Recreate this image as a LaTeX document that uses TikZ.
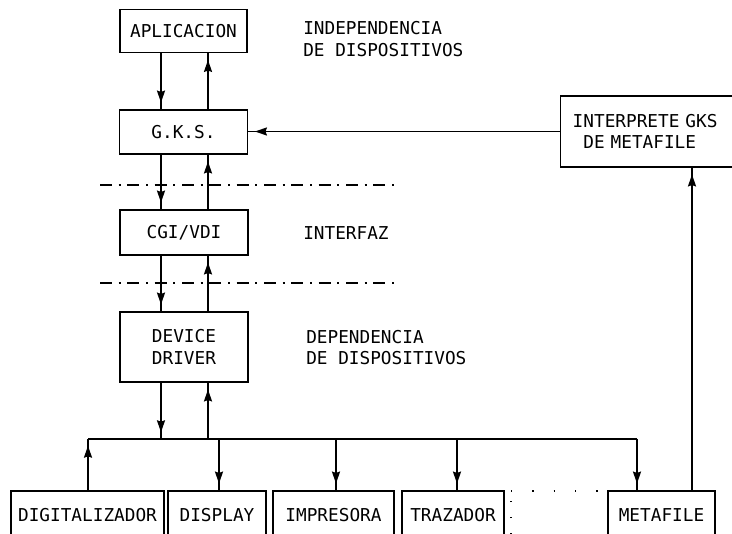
\documentclass[tikz,border=0pt]{standalone}
\usepackage{fontspec}
\setmonofont{DejaVu Sans Mono}
\usetikzlibrary{arrows.meta}
\begin{document}
\begin{tikzpicture}[x=0.75pt,y=-0.75pt,
  every node/.style={font=\ttfamily\fontsize{13.3pt}{16pt}\selectfont},
  box/.style 2 args={draw, line width=1.1pt, minimum width=#1*0.75pt, minimum height=#2*0.75pt, inner sep=0pt, align=center},
  lbl/.style={anchor=west, inner sep=0pt, align=left},
  arr/.style={line width=1.2pt, -{Stealth[length=9pt,width=6pt,inset=1pt]}, shorten >=5pt,
    postaction={draw, -, shorten >=0pt}},
  sepline/.style={line width=0.8pt, dash pattern=on 9pt off 5pt on 1.5pt off 5pt}
]
\useasboundingbox (0,0) rectangle (732,534);
\clip (0,0) rectangle (732,534);

% main column
\node[box={127}{43}] (app) at (183.5,31) {APLICACION};
\node[box={128}{44}] (gks) at (183.5,132) {G.K.S.};
\node[box={128}{45}] (cgi) at (184,232.5) {CGI/VDI};
\node[box={128}{70}] (dd) at (184,347) {DEVICE\\DRIVER};

% interpreter
\node[draw, line width=1.1pt, anchor=west, minimum height=53.25pt, inner xsep=9pt, inner ysep=0pt,
      text width=117pt, align=left] (interp) at (560,131.5) {INTERPRETE GKS\\\hphantom{D}DE METAFILE};

% side labels
\node[lbl] (lind) at (303,39) {INDEPENDENCIA\\DE DISPOSITIVOS};
\node[lbl] (lint) at (303,233) {INTERFAZ};
\node[lbl] (ldep) at (306,347.5) {DEPENDENCIA\\DE DISPOSITIVOS};

% device boxes
\node[box={153}{49}] (dig) at (87.5,515.5) {DIGITALIZADOR};
\node[box={98}{49}] (disp) at (217,515.5) {DISPLAY};
\node[box={121}{49}] (imp) at (333.5,515.5) {IMPRESORA};
\node[box={102}{49}] (traz) at (453,515.5) {TRAZADOR};
\node[box={107}{49}] (meta) at (661.5,515.5) {METAFILE};

% separator lines
\coordinate (s1a) at (100,185); \coordinate (s1b) at (395,185);
\coordinate (s2a) at (100,283); \coordinate (s2b) at (395,283);
\draw[sepline] (s1a) -- (s1b);
\draw[sepline] (s2a) -- (s2b);

% column x positions
\coordinate (xl) at (161,0);
\coordinate (xr) at (208,0);
\draw[arr] (xl |- app.south) -- (xl |- gks.north);
\draw[arr] (xr |- gks.north) -- (xr |- app.south);
\draw[arr] (xl |- gks.south) -- (xl |- cgi.north);
\draw[arr] (xr |- cgi.north) -- (xr |- gks.south);
\draw[arr] (xl |- cgi.south) -- (xl |- dd.north);
\draw[arr] (xr |- dd.north) -- (xr |- cgi.south);

% bus
\coordinate (busL) at (88,439);
\coordinate (busR) at (637,439);
\draw[line width=1.5pt] (busL) -- (busR);
\draw[arr] (xl |- dd.south) -- (xl |- busL);
\draw[arr] (xr |- busL) -- (xr |- dd.south);

\coordinate (xdisp) at (219,0);
\coordinate (ximp) at (336,0);
\coordinate (xtraz) at (457,0);
\draw[arr] (busL |- dig.north) -- (busL);
\draw[arr] (xdisp |- busL) -- (xdisp |- disp.north);
\draw[arr] (ximp |- busL) -- (ximp |- imp.north);
\draw[arr] (xtraz |- busL) -- (xtraz |- traz.north);
\draw[arr] (busR) -- (busR |- meta.north);

% metafile to interpreter, interpreter to GKS
\coordinate (xmeta) at (692,0);
\draw[arr] (xmeta |- meta.north) -- (xmeta |- interp.south);
\draw[arr] (interp.west) -- (interp.west -| gks.east);

% dotted placeholder
\coordinate (d1) at (511,534); \coordinate (d2) at (511,491); \coordinate (d3) at (600,491);
\draw[line width=1pt, dash pattern=on 1pt off 11pt] (d1) -- (d2);
\draw[line width=1pt, dash pattern=on 1pt off 15pt] (d2) -- (d3);
\end{tikzpicture}
\end{document}
